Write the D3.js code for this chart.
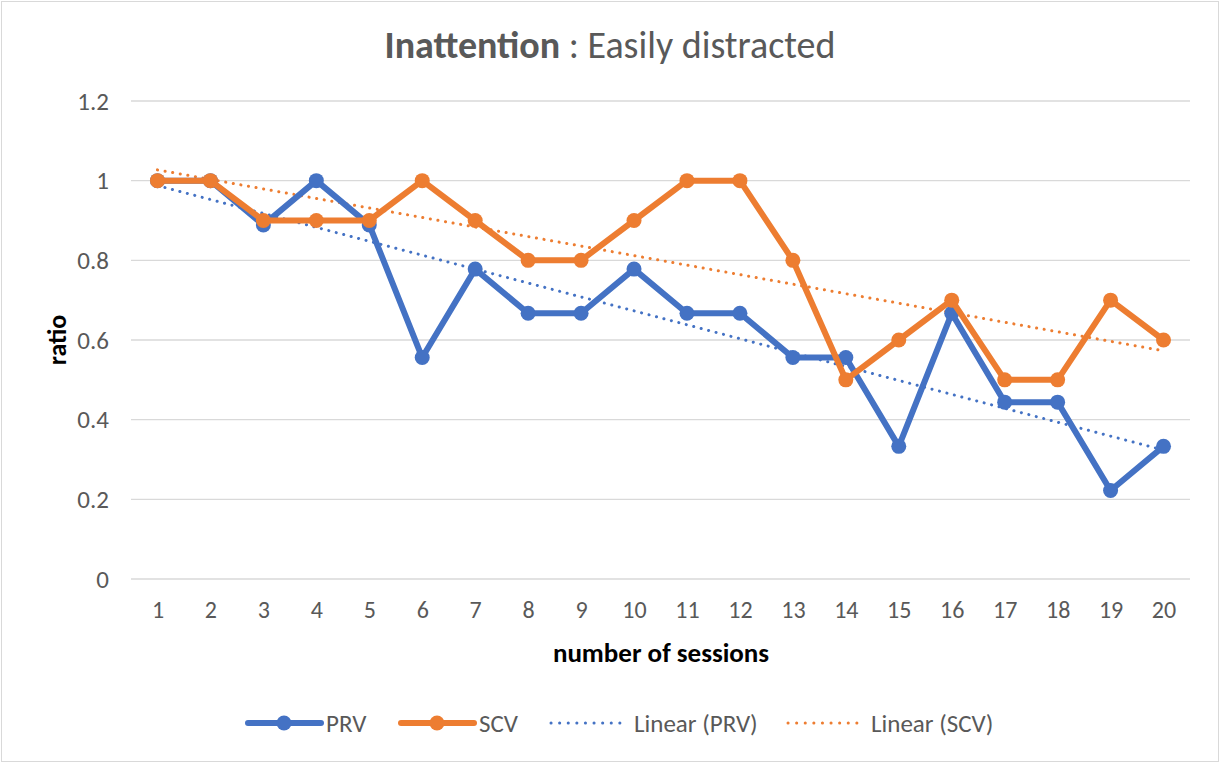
<!DOCTYPE html>
<html>
<head>
<meta charset="utf-8">
<script src="https://cdnjs.cloudflare.com/ajax/libs/d3/7.8.5/d3.min.js"></script>
<style>
  body { margin: 0; background: #fff; }
  svg { display: block; }
  text { font-family: Carlito, Calibri, "Open Sans", sans-serif; }
</style>
</head>
<body>
<svg id="chart" width="1220" height="763"></svg>
<script>
// Data
const sessions = [1, 2, 3, 4, 5, 6, 7, 8, 9, 10, 11, 12, 13, 14, 15, 16, 17, 18, 19, 20];
const prv = [1, 1, 0.889, 1, 0.889, 0.556, 0.778, 0.667, 0.667, 0.778, 0.667, 0.667, 0.556, 0.556, 0.333, 0.667, 0.444, 0.444, 0.222, 0.333];
const scv = [1, 1, 0.9, 0.9, 0.9, 1, 0.9, 0.8, 0.8, 0.9, 1, 1, 0.8, 0.5, 0.6, 0.7, 0.5, 0.5, 0.7, 0.6];
const yTicks = [0, 0.2, 0.4, 0.6, 0.8, 1, 1.2];

const BLUE = '#4472C4';
const ORANGE = '#ED7D31';

const svg = d3.select('#chart');

// chart border
svg.append('rect')
    .attr('x', 1.5).attr('y', 1.5)
    .attr('width', 1217).attr('height', 760)
    .attr('fill', '#fff')
    .attr('stroke', '#d9d9d9')
    .attr('stroke-width', 1);

const plot = { left: 131, right: 1190, top: 101, bottom: 579 };

const x = d3.scalePoint()
    .domain(sessions)
    .range([plot.left, plot.right])
    .padding(0.5);

const y = d3.scaleLinear()
    .domain([0, 1.2])
    .range([plot.bottom, plot.top]);

// gridlines
svg.append('g')
    .selectAll('line')
    .data(yTicks)
    .join('line')
    .attr('x1', plot.left)
    .attr('x2', plot.right)
    .attr('y1', d => y(d))
    .attr('y2', d => y(d))
    .attr('stroke', '#d9d9d9')
    .attr('stroke-width', 1.3);

// y axis labels
const yAxis = svg.append('g')
    .attr('transform', 'translate(109,0)')
    .call(d3.axisLeft(y).tickValues(yTicks).tickSize(0).tickPadding(0).tickFormat(d3.format('~g')));
yAxis.select('.domain').remove();
yAxis.selectAll('text')
    .style('font-size', '25px')
    .style('font-family', 'Carlito, Calibri, sans-serif')
    .attr('fill', '#595959')
    .attr('dy', '0.33em');

// x axis labels
const xAxis = svg.append('g')
    .attr('transform', 'translate(0,618)')
    .call(d3.axisBottom(x).tickSize(0).tickPadding(0));
xAxis.select('.domain').remove();
xAxis.selectAll('text')
    .style('font-size', '24px')
    .style('font-family', 'Carlito, Calibri, sans-serif')
    .attr('fill', '#595959')
    .attr('y', 0)
    .attr('dy', 0);

// least squares trendline (Excel "Linear")
function linearFit(xs, ys) {
    const mx = d3.mean(xs), my = d3.mean(ys);
    let num = 0, den = 0;
    xs.forEach((v, i) => { num += (v - mx) * (ys[i] - my); den += (v - mx) * (v - mx); });
    const b = num / den;
    const a = my - b * mx;
    return v => a + b * v;
}

const line = d3.line()
    .x((d, i) => x(sessions[i]))
    .y(d => y(d));

const series = [
    { name: 'PRV', values: prv, color: BLUE },
    { name: 'SCV', values: scv, color: ORANGE }
];

// trendlines
series.forEach(s => {
    const f = linearFit(sessions, s.values);
    const ends = [sessions[0], sessions[sessions.length - 1]];
    svg.append('line')
        .attr('x1', x(ends[0])).attr('y1', y(f(ends[0])))
        .attr('x2', x(ends[1])).attr('y2', y(f(ends[1])))
        .attr('stroke', s.color)
        .attr('stroke-width', 3)
        .attr('stroke-linecap', 'round')
        .attr('stroke-dasharray', '0.1,7.6');
});

// series lines and markers
series.forEach(s => {
    svg.append('path')
        .datum(s.values)
        .attr('d', line)
        .attr('fill', 'none')
        .attr('stroke', s.color)
        .attr('stroke-width', 6)
        .attr('stroke-linejoin', 'round');

    svg.append('g')
        .selectAll('circle')
        .data(s.values)
        .join('circle')
        .attr('cx', (d, i) => x(sessions[i]))
        .attr('cy', d => y(d))
        .attr('r', 7.5)
        .attr('fill', s.color);
});

// title
const title = svg.append('text')
    .attr('x', 610)
    .attr('y', 58)
    .attr('text-anchor', 'middle')
    .attr('font-size', 38)
    .attr('fill', '#595959');
title.append('tspan').attr('font-weight', 'bold').text('Inattention');
title.append('tspan').text(' : Easily distracted');

// axis titles
svg.append('text')
    .attr('transform', 'translate(66,340) rotate(-90)')
    .attr('text-anchor', 'middle')
    .attr('font-size', 26)
    .attr('font-weight', 'bold')
    .attr('fill', '#000')
    .text('ratio');

svg.append('text')
    .attr('x', 661)
    .attr('y', 662)
    .attr('text-anchor', 'middle')
    .attr('font-size', 27)
    .attr('font-weight', 'bold')
    .attr('fill', '#000')
    .text('number of sessions');

// legend
const legendItems = [
    { label: 'PRV', color: BLUE, x: 248, kind: 'marker' },
    { label: 'SCV', color: ORANGE, x: 401, kind: 'marker' },
    { label: 'Linear (PRV)', color: BLUE, x: 551, kind: 'dots' },
    { label: 'Linear (SCV)', color: ORANGE, x: 788, kind: 'dots' }
];
const ly = 723;
const legend = svg.append('g');
legendItems.forEach(it => {
    const g = legend.append('g').attr('transform', `translate(${it.x},${ly})`);
    if (it.kind === 'marker') {
        g.append('line')
            .attr('x1', 0).attr('x2', 73)
            .attr('stroke', it.color)
            .attr('stroke-width', 6)
            .attr('stroke-linecap', 'round');
        g.append('circle').attr('cx', 36).attr('r', 7.5).attr('fill', it.color);
        g.append('text').attr('x', 78).attr('y', 9).attr('font-size', 25).attr('fill', '#595959').text(it.label);
    } else {
        g.append('line')
            .attr('x1', 0).attr('x2', 69)
            .attr('stroke', it.color)
            .attr('stroke-width', 3)
            .attr('stroke-linecap', 'round')
            .attr('stroke-dasharray', '0.1,8.5');
        g.append('text').attr('x', 83).attr('y', 9).attr('font-size', 25).attr('fill', '#595959').text(it.label);
    }
});
</script>
</body>
</html>
